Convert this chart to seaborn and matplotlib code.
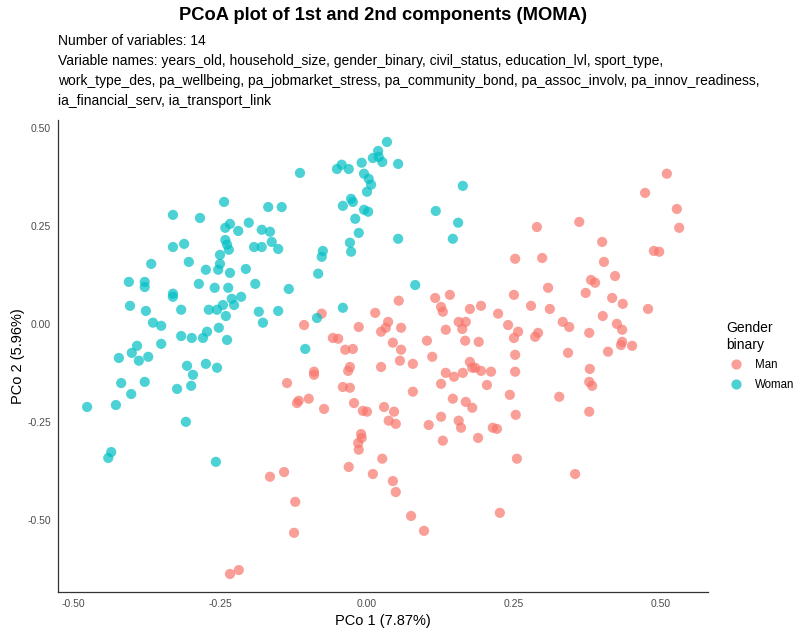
import pandas as pd
import matplotlib
matplotlib.use("Agg")
import matplotlib.pyplot as plt
import seaborn as sns

# PCoA coordinates (PCo 1, PCo 2)
woman_x = [-0.330, -0.284, -0.330, -0.311, -0.367, -0.303, -0.274, -0.405, -0.378, -0.114,
           -0.051, -0.043, -0.031, -0.009, -0.005, 0.003, 0.000, -0.027, -0.024, -0.041,
           -0.005, 0.002, -0.020, -0.014, -0.029, -0.027, -0.243, -0.168, -0.145, -0.233,
           -0.241, -0.219, -0.201, -0.179, -0.165, -0.162, -0.192, -0.179, -0.151, -0.241,
           -0.238, -0.235, -0.250, -0.250, -0.253, -0.233, -0.206, -0.075, -0.077, -0.083,
           0.034, 0.019, 0.020, 0.010, 0.026, 0.053, 0.007, 0.163, 0.117, 0.155,
           0.053, 0.146, -0.378, -0.330, -0.330, -0.286, -0.259, -0.403, -0.376, -0.316,
           -0.269, -0.255, -0.364, -0.350, -0.316, -0.298, -0.279, -0.272, -0.252, -0.350,
           -0.391, -0.400, -0.388, -0.372, -0.422, -0.306, -0.274, -0.255, -0.296, -0.418,
           -0.378, -0.323, -0.299, -0.401, -0.476, -0.427, -0.308, -0.257, -0.435, -0.440,
           -0.236, -0.190, -0.133, -0.214, -0.230, -0.226, -0.245, -0.184, -0.151, -0.240,
           -0.177, -0.041, -0.085, -0.238, -0.105, 0.082]
woman_y = [0.278, 0.270, 0.196, 0.204, 0.153, 0.158, 0.138, 0.107, 0.107, 0.385,
           0.395, 0.406, 0.395, 0.411, 0.383, 0.370, 0.337, 0.319, 0.311, 0.301,
           0.291, 0.286, 0.268, 0.232, 0.207, 0.184, 0.311, 0.298, 0.298, 0.255,
           0.245, 0.237, 0.258, 0.240, 0.235, 0.209, 0.196, 0.196, 0.191, 0.214,
           0.202, 0.189, 0.176, 0.153, 0.138, 0.130, 0.140, 0.186, 0.171, 0.128,
           0.464, 0.441, 0.426, 0.423, 0.413, 0.408, 0.355, 0.352, 0.288, 0.258,
           0.217, 0.217, 0.094, 0.077, 0.069, 0.102, 0.092, 0.046, 0.033, 0.036,
           0.036, 0.036, 0.003, -0.005, -0.031, -0.036, -0.036, -0.020, -0.010, -0.051,
           -0.056, -0.074, -0.094, -0.084, -0.087, -0.107, -0.102, -0.112, -0.130, -0.151,
           -0.148, -0.166, -0.158, -0.179, -0.212, -0.207, -0.250, -0.352, -0.327, -0.342,
           0.092, 0.102, 0.089, 0.069, 0.064, 0.048, 0.048, 0.031, 0.033, 0.020,
           0.003, 0.041, 0.015, -0.041, -0.064, 0.099]

man_x = [0.252, 0.510, 0.473, 0.527, 0.531, 0.289, 0.361, 0.400, 0.488, 0.497,
         0.298, 0.403, 0.422, 0.381, 0.388, -0.077, -0.107, -0.014, -0.058, -0.049,
         -0.037, -0.024, -0.029, -0.032, -0.090, -0.090, -0.136, -0.041, -0.029, -0.116,
         -0.119, -0.099, -0.073, -0.022, -0.007, 0.000, 0.054, 0.116, 0.141, 0.250,
         0.014, 0.126, 0.129, 0.175, 0.194, 0.223, 0.036, 0.032, 0.024, 0.058,
         0.156, 0.168, 0.162, 0.134, 0.240, 0.257, 0.044, 0.058, 0.102, 0.167,
         0.190, 0.250, 0.111, 0.056, 0.078, 0.024, 0.175, 0.179, 0.184, 0.194,
         0.211, 0.134, 0.148, 0.163, 0.252, 0.252, 0.126, 0.204, 0.078, 0.146,
         0.168, 0.179, 0.243, 0.253, 0.029, 0.046, 0.037, 0.049, 0.126, 0.105,
         0.156, 0.160, 0.214, 0.221, 0.129, 0.189, 0.255, 0.026, 0.010, 0.044,
         0.049, 0.075, 0.097, 0.226, 0.308, 0.372, 0.417, 0.435, 0.478, 0.279,
         0.311, 0.401, 0.333, 0.344, 0.425, 0.434, 0.291, 0.286, 0.378, 0.434,
         0.432, 0.451, 0.410, 0.342, 0.379, 0.378, 0.383, 0.327, 0.378, -0.010,
         -0.009, -0.015, -0.014, -0.031, -0.165, -0.141, -0.122, -0.124, -0.233, -0.218,
         0.354]
man_y = [0.166, 0.383, 0.334, 0.293, 0.245, 0.247, 0.260, 0.209, 0.186, 0.184,
         0.168, 0.158, 0.122, 0.112, 0.105, 0.026, -0.003, -0.008, -0.036, -0.038,
         -0.066, -0.064, -0.110, -0.120, -0.122, -0.130, -0.151, -0.161, -0.163, -0.196,
         -0.202, -0.191, -0.217, -0.202, -0.222, -0.224, 0.059, 0.066, 0.074, 0.074,
         0.028, 0.043, 0.031, 0.038, 0.046, 0.026, 0.005, -0.010, -0.020, -0.010,
         0.005, 0.005, -0.013, -0.015, -0.003, -0.020, -0.048, -0.066, -0.043, -0.043,
         -0.046, -0.036, -0.084, -0.094, -0.102, -0.110, -0.097, -0.112, -0.112, -0.120,
         -0.122, -0.125, -0.135, -0.125, -0.079, -0.122, -0.153, -0.156, -0.173, -0.191,
         -0.199, -0.214, -0.181, -0.232, -0.212, -0.224, -0.247, -0.255, -0.237, -0.258,
         -0.247, -0.265, -0.265, -0.268, -0.298, -0.291, -0.344, -0.344, -0.383, -0.401,
         -0.429, -0.490, -0.528, -0.482, 0.092, 0.079, 0.066, 0.051, 0.038, 0.046,
         0.038, 0.020, 0.005, -0.008, 0.000, -0.015, -0.023, -0.033, -0.023, -0.046,
         -0.054, -0.056, -0.071, -0.074, -0.115, -0.148, -0.158, -0.186, -0.224, -0.281,
         -0.291, -0.304, -0.321, -0.365, -0.390, -0.378, -0.454, -0.533, -0.638, -0.628,
         -0.383]

variables = ["years_old", "household_size", "gender_binary", "civil_status", "education_lvl",
             "sport_type", "work_type_des", "pa_wellbeing", "pa_jobmarket_stress",
             "pa_community_bond", "pa_assoc_involv", "pa_innov_readiness",
             "ia_financial_serv", "ia_transport_link"]
x_ticks = [-0.50, -0.25, 0.00, 0.25, 0.50]
y_ticks = [-0.50, -0.25, 0.00, 0.25, 0.50]

df = pd.DataFrame({
    "PCo1": man_x + woman_x,
    "PCo2": man_y + woman_y,
    "gender": ["Man"] * len(man_x) + ["Woman"] * len(woman_x),
})

sns.set_theme(style="white")
plt.rcParams["font.family"] = ["Liberation Sans", "DejaVu Sans"]
plt.rcParams["text.color"] = "black"
plt.rcParams["axes.labelcolor"] = "black"

fig = plt.figure(figsize=(7.95, 6.35), dpi=100)
ax = fig.add_axes([58 / 795, 43 / 635, 650 / 795, 472 / 635])

sns.scatterplot(data=df, x="PCo1", y="PCo2", hue="gender",
                palette={"Man": "#F8766D", "Woman": "#00BFC4"},
                s=54, alpha=0.7, linewidth=0, ax=ax)

ax.set_xlim(-0.5255, 0.580)
ax.set_ylim(-0.684, 0.520)
ax.set_xticks(x_ticks)
ax.set_yticks(y_ticks)
ax.set_xticklabels([f"{v:.2f}" for v in x_ticks])
ax.set_yticklabels([f"{v:.2f}" for v in y_ticks])
ax.tick_params(axis="both", length=0, pad=5, labelsize=7.5, labelcolor="#4d4d4d")
for side in ["top", "right"]:
    ax.spines[side].set_visible(False)
for side in ["left", "bottom"]:
    ax.spines[side].set_color("#333333")
    ax.spines[side].set_linewidth(0.9)

ax.set_xlabel("PCo 1 (7.87%)", fontsize=10.5, labelpad=4)
ax.set_ylabel("PCo 2 (5.96%)", fontsize=10.5, labelpad=2)

leg = ax.legend(title="Gender\nbinary", loc="center left", bbox_to_anchor=(1.0, 0.5),
                borderaxespad=0, borderpad=0, frameon=False, fontsize=8.3,
                title_fontsize=10, handlelength=1.7, handletextpad=0.8,
                labelspacing=0.65)
leg._legend_box.align = "left"
leg.set_bbox_to_anchor((1.0 + 18 / 650, 0.5), transform=ax.transAxes)

fig.text(383 / 795, 1 - 15 / 635, "PCoA plot of 1st and 2nd components (MOMA)",
         ha="center", va="center", fontsize=13.2, fontweight="bold")
sub_lines = [
    f"Number of variables: {len(variables)}",
    "Variable names: " + ", ".join(variables[:6]) + ",",
    ", ".join(variables[6:12]) + ",",
    ", ".join(variables[12:]),
]
for i, line in enumerate(sub_lines):
    fig.text(58 / 795, 1 - (41 + 20 * i) / 635, line, ha="left", va="center", fontsize=10)

fig.savefig("out.png", dpi=100)
